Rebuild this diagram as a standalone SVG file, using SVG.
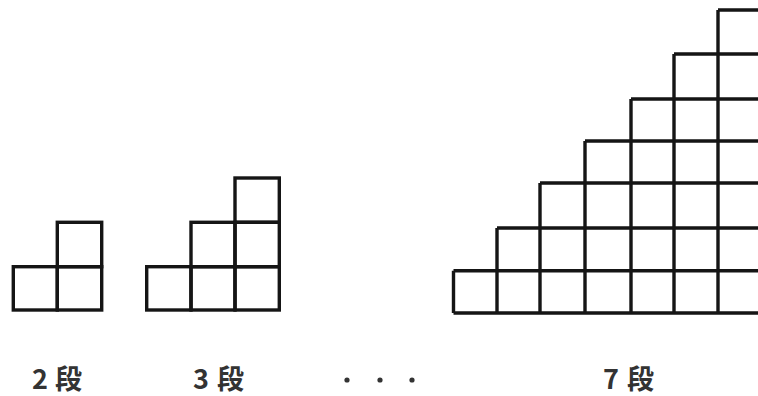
<svg xmlns="http://www.w3.org/2000/svg" width="758" height="396" viewBox="0 0 758 396">
<style>
.c{fill:none;stroke:#151515;stroke-width:3.4;stroke-linejoin:miter}
.t{font-family:"Noto Sans CJK JP","Noto Sans",sans-serif;font-size:27px;font-weight:700;fill:#333}
.d{fill:#333}
</style>
<rect width="758" height="396" fill="#fff"/>
<g id="step2">
<rect class="c" x="13.3" y="266.7" width="44" height="43.3"/>
<rect class="c" x="57.3" y="266.7" width="44.4" height="43.3"/>
<rect class="c" x="57.3" y="222.3" width="44.4" height="44.4"/>
</g>
<g id="step3">
<rect class="c" x="146.7" y="266.7" width="44.3" height="43.3"/>
<rect class="c" x="191" y="266.7" width="44" height="43.3"/>
<rect class="c" x="235" y="266.7" width="44.3" height="43.3"/>
<rect class="c" x="191" y="222.3" width="44" height="44.4"/>
<rect class="c" x="235" y="222.3" width="44.3" height="44.4"/>
<rect class="c" x="235" y="178" width="44.3" height="44.3"/>
</g>
<g id="step7">
<path class="c" d="M453.5 313 H770 M453.5 270.7 H770 M497 228 H770 M540 183 H770 M585 141 H770 M631 99 H770 M674 54 H770 M718 10 H770
M453.5 313 V270.7 M497 313 V228 M540 313 V183 M585 313 V141 M631 313 V99 M674 313 V54 M718 313 V10"/>
</g>
<g id="labels">
<text class="t" y="389"><tspan x="32">2</tspan><tspan x="55">段</tspan></text>
<text class="t" y="389"><tspan x="193">3</tspan><tspan x="217">段</tspan></text>
<circle class="d" cx="347" cy="380" r="2.6"/>
<circle class="d" cx="380" cy="380" r="2.6"/>
<circle class="d" cx="412" cy="380" r="2.6"/>
<text class="t" y="389"><tspan x="603">7</tspan><tspan x="627">段</tspan></text>
</g>
</svg>
